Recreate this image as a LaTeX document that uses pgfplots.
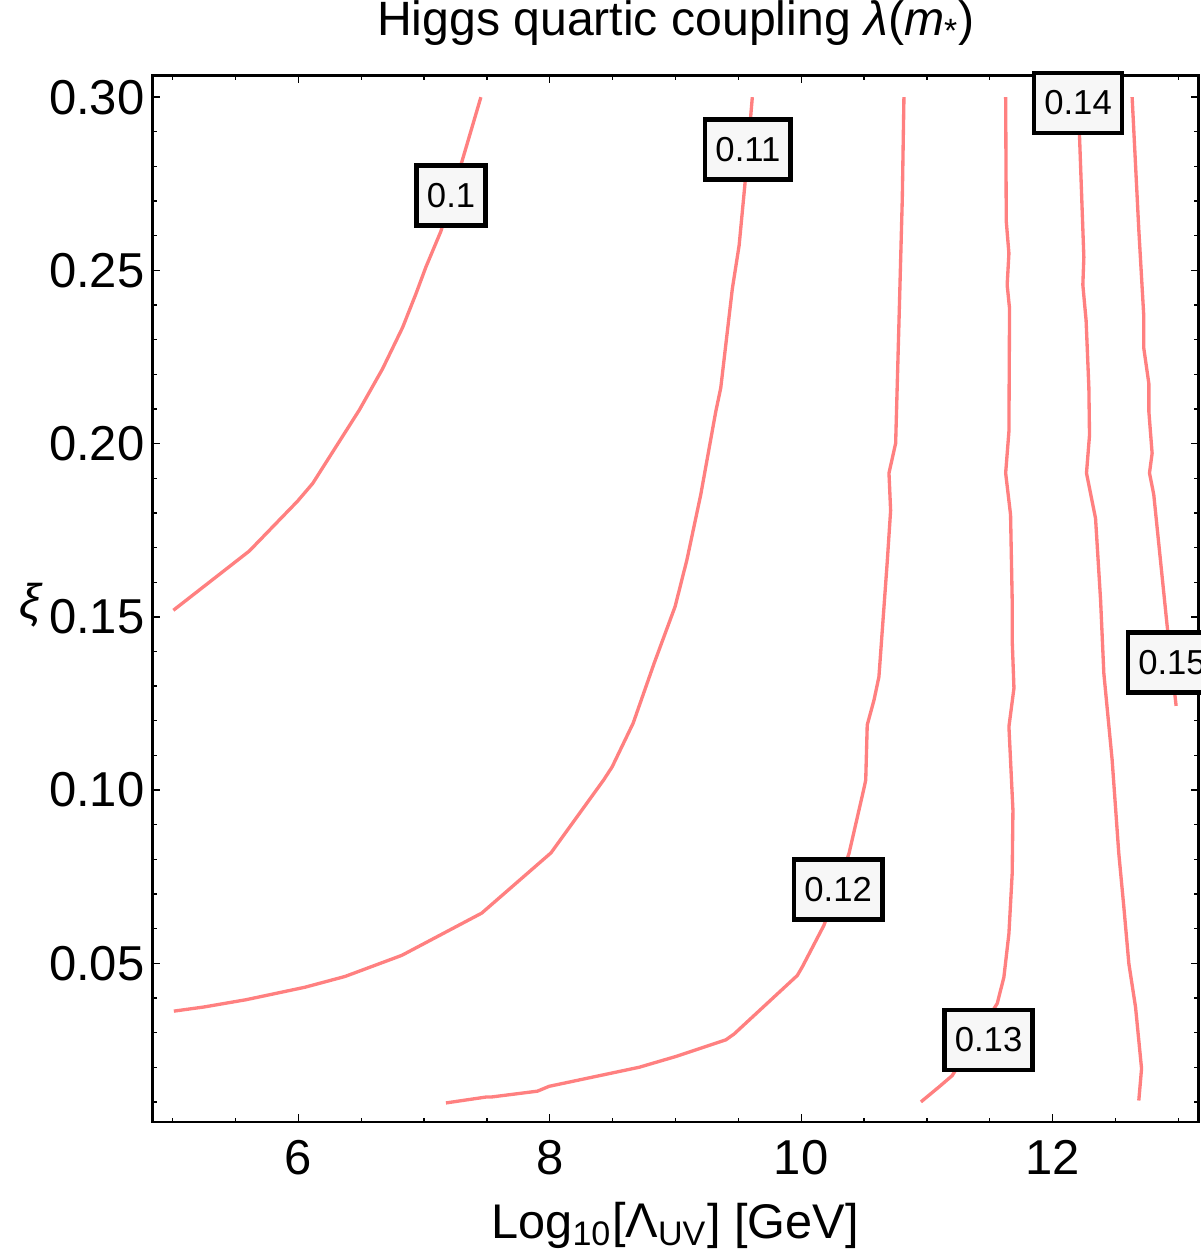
\documentclass[border=0pt]{standalone}
\usepackage{fontspec}
\setmainfont{Liberation Sans}
\usepackage{pgfplots}
\pgfplotsset{compat=1.18}
\definecolor{contourc}{RGB}{255,128,128}
\definecolor{lblfill}{RGB}{247,247,247}
\tikzset{lbl/.style={draw=black, line width=1.4pt, fill=lblfill, font=\fontsize{10.4}{12}\selectfont, inner xsep=3.1pt, inner ysep=0pt, minimum height=18pt}}
\begin{document}
\begin{tikzpicture}
\begin{axis}[
  scale only axis,
  width=313.8pt, height=314pt,
  xmin=4.84, xmax=13.16, ymin=0.0042, ymax=0.3063,
  clip=false,
  axis line style={line width=0.75pt},
  tick align=inside,
  xtick={6,8,10,12},
  ytick={0.05,0.10,0.15,0.20,0.25,0.30},
  minor xtick={5,5.5,6.5,7,7.5,8.5,9,9.5,10.5,11,11.5,12.5,13},
  minor ytick={0.01,0.02,0.03,0.04,0.06,0.07,0.08,0.09,0.11,0.12,0.13,0.14,0.16,0.17,0.18,0.19,0.21,0.22,0.23,0.24,0.26,0.27,0.28,0.29},
  major tick length=2.4pt, minor tick length=1.3pt,
  every tick/.style={black, line width=0.4pt},
  /pgf/number format/assume math mode=true,
  tick label style={font=\fontsize{14.7}{17}\selectfont, inner sep=0pt},
  xticklabel style={anchor=north, yshift=-5.2pt},
  yticklabel style={anchor=east, xshift=-2.2pt, /pgf/number format/fixed, /pgf/number format/fixed zerofill, /pgf/number format/precision=2},
  title={Higgs quartic coupling \textit{λ}(\textit{m}\textsubscript{*})},
  title style={font=\fontsize{14.45}{17}\selectfont, at={(axis description cs:0.5005,1)}, anchor=base, yshift=6.1pt},
  xlabel={Log\textsubscript{10}[Λ\textsubscript{UV}] [GeV]},
  xlabel style={font=\fontsize{14.6}{17}\selectfont, at={(axis description cs:0.4995,0)}, anchor=base, yshift=-34.8pt},
  ylabel={\textit{ξ}},
  ylabel style={font=\fontsize{14.6}{17}\selectfont, rotate=-90, at={(axis description cs:-0.1162,0.494)}, anchor=center},
]
\coordinate (SW) at (rel axis cs:0,0);
% lambda = 0.10
\addplot[contourc, line width=1.0pt, line join=round] coordinates {
(5.006,0.1519) (5.610,0.1690) (5.994,0.1834) (6.114,0.1885) (6.485,0.2097)
(6.670,0.2216) (6.829,0.2335) (6.936,0.2433) (7.015,0.2510) (7.134,0.2613)
(7.306,0.2820) (7.452,0.3000)};
% lambda = 0.11
\addplot[contourc, line width=1.0pt, line join=round] coordinates {
(5.010,0.0362) (5.250,0.0374) (5.585,0.0395) (6.053,0.0431) (6.371,0.0462)
(6.823,0.0523) (7.459,0.0645) (8.010,0.0819) (8.428,0.1029) (8.496,0.1067)
(8.663,0.1193) (8.830,0.1366) (8.997,0.1530) (9.091,0.1665) (9.201,0.1853)
(9.320,0.2092) (9.360,0.2161) (9.452,0.2447) (9.506,0.2572) (9.551,0.2744)
(9.611,0.3000)};
% lambda = 0.12
\addplot[contourc, line width=1.0pt, line join=round] coordinates {
(7.174,0.0097) (7.492,0.0114) (7.532,0.0114) (7.902,0.0131) (7.995,0.0145)
(8.711,0.0200) (9.002,0.0231) (9.400,0.0279) (9.466,0.0296) (9.969,0.0465)
(10.009,0.0490) (10.181,0.0610) (10.380,0.0817) (10.499,0.1005) (10.513,0.1029)
(10.525,0.1188) (10.579,0.1260) (10.618,0.1327) (10.684,0.1658) (10.711,0.1807)
(10.698,0.1915) (10.751,0.2001) (10.777,0.2344) (10.804,0.2709) (10.817,0.3000)};
% lambda = 0.13
\addplot[contourc, line width=1.0pt, line join=round] coordinates {
(10.952,0.0100) (11.095,0.0143) (11.201,0.0176) (11.559,0.0384) (11.612,0.0460)
(11.652,0.0586) (11.678,0.0759) (11.684,0.0942) (11.652,0.1183) (11.692,0.1294)
(11.678,0.1434) (11.678,0.1549) (11.665,0.1795) (11.626,0.1915) (11.652,0.2035)
(11.657,0.2390) (11.638,0.2458) (11.652,0.2549) (11.631,0.2641) (11.626,0.3000)};
% lambda = 0.14
\addplot[contourc, line width=1.0pt, line join=round] coordinates {
(12.685,0.0104) (12.707,0.0196) (12.659,0.0374) (12.606,0.0499) (12.566,0.0663)
(12.526,0.0817) (12.473,0.1087) (12.407,0.1337) (12.381,0.1549) (12.341,0.1784)
(12.269,0.1915) (12.293,0.2024) (12.288,0.2161) (12.266,0.2355) (12.240,0.2458)
(12.248,0.2538) (12.214,0.2883) (12.204,0.3000)};
% lambda = 0.15
\addplot[contourc, line width=1.0pt, line join=round] coordinates {
(12.982,0.1243) (12.910,0.1476) (12.804,0.1853) (12.770,0.1915) (12.791,0.1972)
(12.765,0.2093) (12.765,0.2173) (12.725,0.2275) (12.725,0.2366) (12.685,0.2618)
(12.632,0.3000)};
% contour labels
\node[lbl] at (axis cs:7.215,0.2717) {0.1};
\node[lbl] at (axis cs:9.576,0.2848) {0.11};
\node[lbl] at (axis cs:10.294,0.0713) {0.12};
\node[lbl] at (axis cs:11.490,0.0279) {0.13};
\node[lbl] at (axis cs:12.202,0.2983) {0.14};
\node[lbl] at (axis cs:12.949,0.1369) {0.15};
\end{axis}
\pgfresetboundingbox
\path[use as bounding box] (SW) ++(-45.75pt,-38.7pt) rectangle ++(360pt,375.3pt);
\end{tikzpicture}
\end{document}
